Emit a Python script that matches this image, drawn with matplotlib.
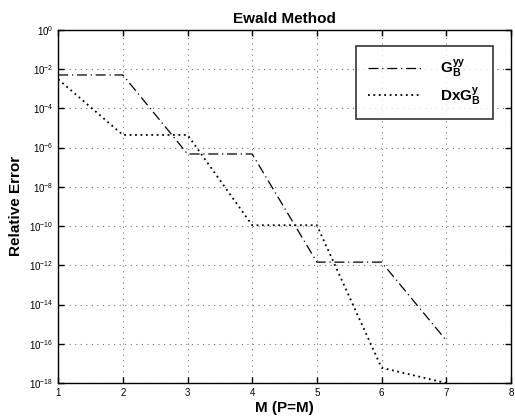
import matplotlib
matplotlib.use("Agg")
import matplotlib.pyplot as plt
from matplotlib.ticker import FixedLocator, LogFormatterSciNotation, NullLocator

plt.rcParams['font.family'] = ['Liberation Sans', 'DejaVu Sans']
plt.rcParams['mathtext.fontset'] = 'custom'
plt.rcParams['mathtext.rm'] = 'Liberation Sans'
plt.rcParams['mathtext.it'] = 'Liberation Sans:italic'
plt.rcParams['mathtext.bf'] = 'Liberation Sans:bold'

M = [1, 2, 3, 4, 5, 6, 7]
g_yy = [5e-3, 5e-3, 4.7e-7, 4.7e-7, 1.45e-12, 1.45e-12, 1.5e-16]
dx_g_y = [3e-3, 4.4e-6, 4.4e-6, 1.1e-10, 1.1e-10, 6e-18, 1e-18]
labels = [r'$\mathbf{G}_{\mathbf{B}}^{\mathbf{yy}}$', r'$\mathbf{DxG}_{\mathbf{B}}^{\mathbf{y}}$']
xticks = [1, 2, 3, 4, 5, 6, 7, 8]
yticks = [10.0 ** (-k) for k in range(0, 19, 2)]

fig = plt.figure(figsize=(5.15, 4.2), dpi=100)
ax = fig.add_axes([0.113, 0.088, 0.879, 0.841])

ax.semilogy(M, g_yy, color='black', linewidth=0.9, linestyle=(0, (8, 3, 1, 3)), label=labels[0])
ax.semilogy(M, dx_g_y, color='black', linewidth=1.3, linestyle=(0, (1, 2)), label=labels[1])

ax.set_xlim(1, 8)
ax.set_ylim(1e-18, 1)
ax.xaxis.set_major_locator(FixedLocator(xticks))
ax.yaxis.set_major_locator(FixedLocator(yticks))
ax.yaxis.set_minor_locator(NullLocator())
ax.yaxis.set_major_formatter(LogFormatterSciNotation())
ax.tick_params(direction='in', top=True, right=True, labelsize=7, length=4, width=1)
ax.grid(True, which='major', color='0.45', linestyle=(0, (1, 4)), linewidth=0.8)

for s in ax.spines.values():
    s.set_linewidth(1.0)

ax.set_title('Ewald Method', fontsize=11, pad=5, fontweight='bold')
ax.set_xlabel('M (P=M)', fontsize=11, labelpad=2, fontweight='bold')
ax.set_ylabel('Relative Error', fontsize=11, labelpad=4, fontweight='bold')

leg = ax.legend(loc='upper right', bbox_to_anchor=(0.96, 0.955), fontsize=11,
                frameon=True, fancybox=False, edgecolor='black', handlelength=3.5,
                borderpad=0.8, labelspacing=0.4, handletextpad=1.2, borderaxespad=0)
leg.get_frame().set_linewidth(1.2)

fig.savefig('out.png', dpi=100)
